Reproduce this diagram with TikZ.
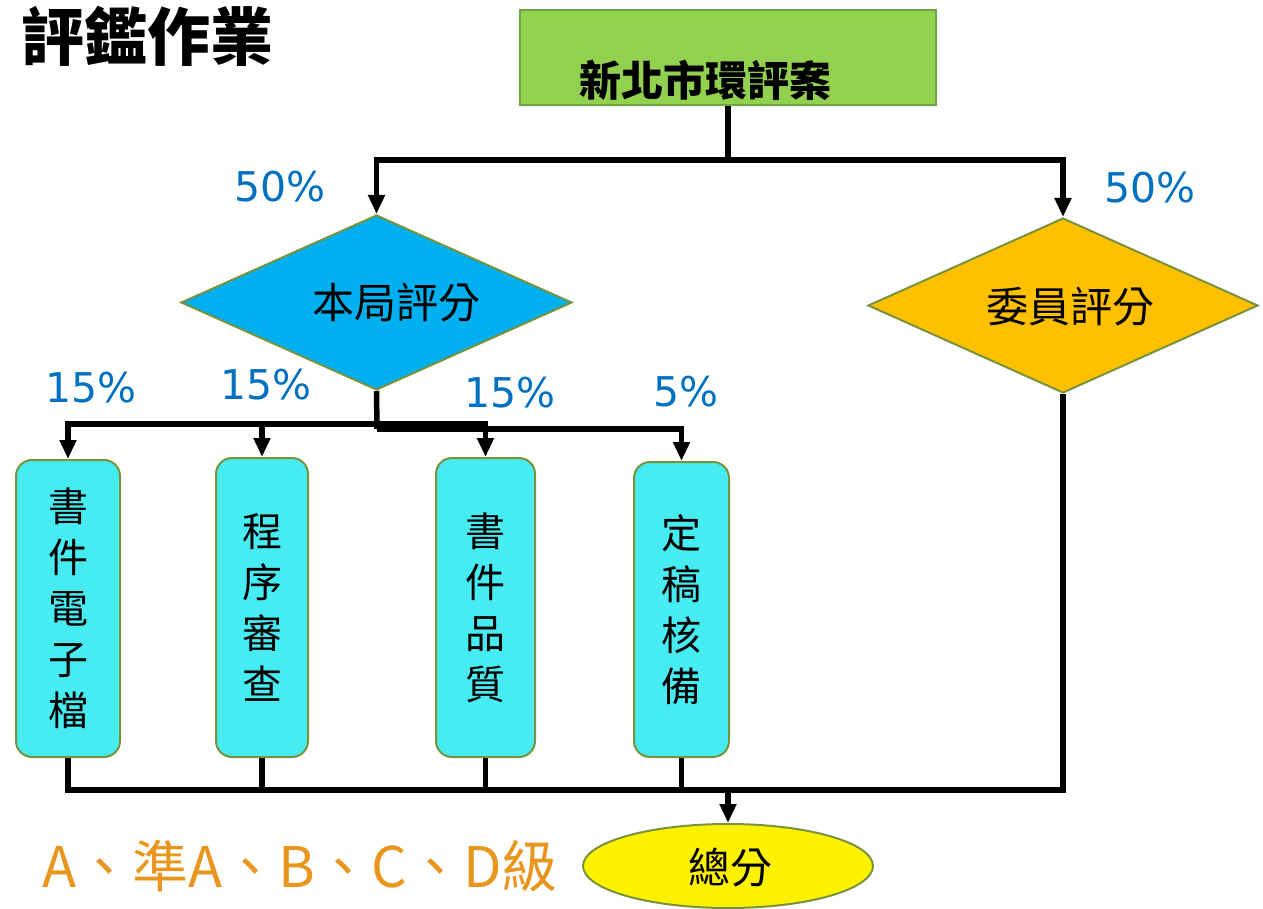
\documentclass[tikz,border=0pt]{standalone}
\usepackage{fontspec}
\newfontfamily\cjk{Noto Sans CJK TC}
\newfontfamily\pct{DejaVu Sans}
\usetikzlibrary{shapes.geometric,arrows.meta}
\definecolor{greenfill}{HTML}{92D050}
\definecolor{greenedge}{HTML}{71A342}
\definecolor{olive}{HTML}{77933C}
\definecolor{bluefill}{HTML}{00B0F0}
\definecolor{orangefill}{HTML}{FFC000}
\definecolor{cyanfill}{HTML}{46ECF2}
\definecolor{pctblue}{HTML}{0070C0}
\definecolor{gradeorange}{HTML}{E8961E}
\begin{document}
\begin{tikzpicture}[x=1pt,y=-1pt,
  conn/.style={line width=5.5pt,black},
  arr/.style={conn,-{Triangle[width=16pt,length=19pt]}},
  dia/.style={diamond,draw=olive,line width=2pt,inner sep=0pt,aspect=2.23},
  vbox/.style={draw=olive,line width=2pt,fill=cyanfill,rounded corners=16pt,inner sep=0pt,align=center,font=\cjk\fontsize{40}{51}\selectfont},
  pctlbl/.style={font=\pct\fontsize{41}{48}\selectfont,text=pctblue,inner sep=0pt},
  cjklbl/.style={font=\cjk\fontsize{42}{48}\selectfont,inner sep=0pt}]
\useasboundingbox (0,0) rectangle (1263,909);

% title
\node[font=\cjk\bfseries\fontsize{63}{68}\selectfont,inner sep=0pt] (title) at (147,36) {評鑑作業};

% top box
\node[draw=greenedge,line width=2pt,fill=greenfill,minimum width=416pt,minimum height=95pt,inner sep=0pt] (g) at (728,57.5) {};
\node[font=\cjk\bfseries\fontsize{42}{48}\selectfont,inner sep=0pt] (gt) at (705,80) {新北市環評案};

% diamonds
\node[dia,fill=bluefill,minimum width=391pt,minimum height=175pt] (d1) at (376.5,302.5) {};
\node[cjklbl] (d1t) at (396,303) {本局評分};
\node[dia,fill=orangefill,minimum width=390pt,minimum height=175pt] (d2) at (1063,305.5) {};
\node[cjklbl] (d2t) at (1070,307) {委員評分};

% boxes
\node[vbox,minimum width=104pt,minimum height=297pt] (b1) at (68,608.5) {書\\件\\電\\子\\檔};
\node[vbox,minimum width=92pt,minimum height=299pt] (b2) at (262,607.5) {程\\序\\審\\查};
\node[vbox,minimum width=99pt,minimum height=299pt] (b3) at (485.5,607.5) {書\\件\\品\\質};
\node[vbox,minimum width=95pt,minimum height=295pt] (b4) at (681.5,609.5) {定\\稿\\核\\備};

% ellipse
\node[ellipse,draw=olive,line width=2pt,fill=yellow,minimum width=290pt,minimum height=84pt,inner sep=0pt] (e) at (728,866) {};
\node[cjklbl] (et) at (730,868) {總分};

% percentage labels
\node[pctlbl] (p1) at (280,187) {50\%};
\node[pctlbl] (p2) at (1150,188) {50\%};
\node[pctlbl] (p3) at (91,388) {15\%};
\node[pctlbl] (p4) at (266,385) {15\%};
\node[pctlbl] (p5) at (510,393) {15\%};
\node[pctlbl] (p6) at (686,392) {5\%};

% grade text
\node[font=\cjk\fontsize{56}{62}\selectfont,text=gradeorange,inner sep=0pt] (grade) at (300,866) {A、準A、B、C、D級};

% connectors
\coordinate (j1) at (728,160);
\coordinate (j2) at (377,424);
\coordinate (j3) at (377,429);
\coordinate (j4) at (728,790);
\draw[conn] (g.south) -- (j1);
\draw[arr] (j1) -| (d1.north);
\draw[arr] (j1) -| (d2.north);
\draw[conn] (d1.south) -- (j3);
\draw[arr] (j2) -| (b1.north);
\draw[arr] (j2) -| (b2.north);
\draw[arr] (j2) -| (b3.north);
\draw[arr] (j3) -| (b4.north);
\draw[conn] (b1.south) |- (j4) -| (d2.south);
\draw[conn] (b2.south) -- (b2.south |- j4);
\draw[conn] (b3.south) -- (b3.south |- j4);
\draw[conn] (b4.south) -- (b4.south |- j4);
\draw[arr] (j4) -- (e.north);
\end{tikzpicture}
\end{document}
